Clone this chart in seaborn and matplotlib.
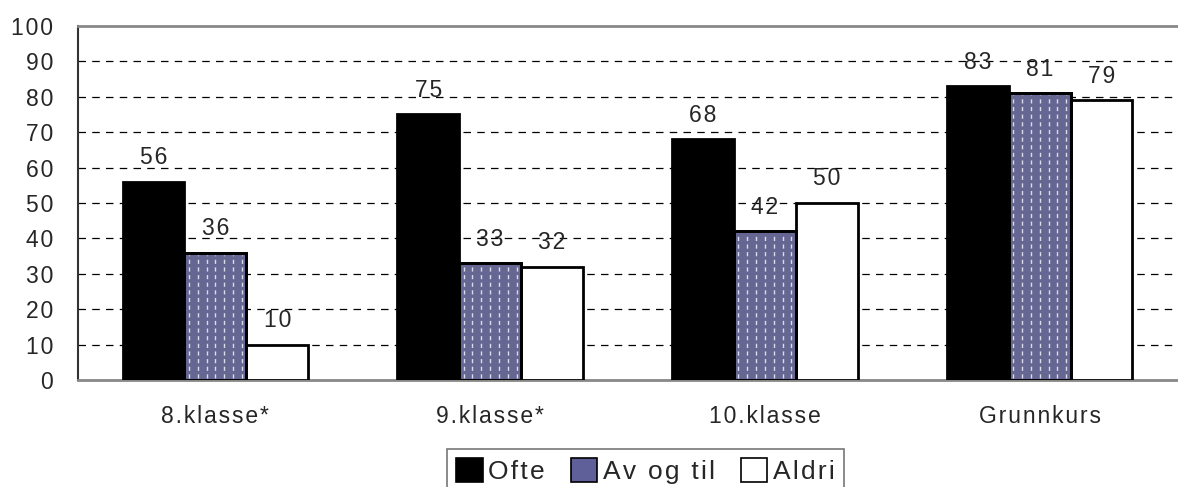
import numpy as np
import pandas as pd
import matplotlib
matplotlib.use('Agg')
import matplotlib.pyplot as plt
import seaborn as sns
from matplotlib.patches import Rectangle, Patch

groups = ['8.klasse*', '9.klasse*', '10.klasse', 'Grunnkurs']
series = ['Ofte', 'Av og til', 'Aldri']
ofte = [56, 75, 68, 83]
av_og_til = [36, 33, 42, 81]
aldri = [10, 32, 50, 79]
colors = ['#000000', '#5f5f99', '#ffffff']


def spaced(s):
    # the original uses a little extra letter spacing
    return '\u200a'.join(s)


df = pd.DataFrame({
    'group': groups * 3,
    'serie': [s for s in series for _ in groups],
    'value': ofte + av_og_til + aldri,
})

sns.set_style('white')
plt.rcParams['font.family'] = ['Liberation Sans', 'DejaVu Sans']

fig = plt.figure(figsize=(11.78, 4.87), dpi=100)
ax = fig.add_axes([0.0662, 0.2197, 0.933, 0.727])

sns.barplot(data=df, x='group', y='value', hue='serie', order=groups,
            hue_order=series, palette=colors, width=0.675, gap=0,
            edgecolor='black', linewidth=2, legend=False, ax=ax, zorder=3)

# dashed white stripes on the middle series
bars = list(ax.patches[:3 * len(groups)])
for p in bars[len(groups):2 * len(groups)]:
    x0, w, h = p.get_x(), p.get_width(), p.get_height()
    xs = x0 + w * (np.arange(7) + 0.5) / 7
    ax.vlines(xs, 0.6, h - 0.6, colors='#dcdcec', linewidth=1.0,
              linestyles=(0, (3, 2.5)), zorder=3.5)
    ax.add_patch(Rectangle(p.get_xy(), w, h, facecolor='none', edgecolor='black',
                           linewidth=2, zorder=3.6))

for p in bars:
    ax.annotate(spaced(f'{p.get_height():.0f}'), (p.get_x() + p.get_width() / 2, p.get_height()),
                xytext=(0, 9), textcoords='offset points', ha='center', va='bottom',
                fontsize=16.5, zorder=5)

ax.set_ylim(0, 100)
ax.set_xlim(-0.5, 3.5)
ax.set_yticks(range(0, 101, 10))
ax.set_yticklabels([spaced(str(v)) for v in range(0, 101, 10)])
for yv in range(10, 100, 10):
    ax.axhline(yv, color='black', lw=0.9, dashes=(6, 5), zorder=1)
ax.set_xticks(range(len(groups)))
ax.set_xticklabels([spaced(g) for g in groups])
ax.set_xticks([0.5, 1.5, 2.5], minor=True)
ax.tick_params(axis='x', which='major', length=0, pad=18, labelsize=16.5)
ax.tick_params(axis='x', which='minor', length=8, width=1.2, color='black', direction='out')
ax.tick_params(axis='y', length=7, width=1, color='black', direction='out', labelsize=16.5, pad=11)
ax.set_xlabel('')
ax.set_ylabel('')

ax.spines['right'].set_visible(False)
ax.spines['top'].set_color('#888888')
ax.spines['top'].set_linewidth(2)
ax.spines['bottom'].set_color('#888888')
ax.spines['bottom'].set_linewidth(2)
ax.spines['left'].set_color('#333333')
ax.spines['left'].set_linewidth(1.5)

handles = [Patch(facecolor=c, edgecolor='black', linewidth=1.2) for c in colors]
leg = fig.legend(handles, [spaced(s) for s in series], loc='upper left',
                 bbox_to_anchor=(447 / 1178, 1 - 449 / 487),
                 ncol=3, frameon=True, fancybox=False, edgecolor='#555555',
                 fontsize=19, handlelength=1.0, handleheight=1.0, handletextpad=0.2,
                 columnspacing=1.0, borderpad=0.35, borderaxespad=0)
leg.get_frame().set_linewidth(1.2)

fig.savefig('out.png', dpi=100)
